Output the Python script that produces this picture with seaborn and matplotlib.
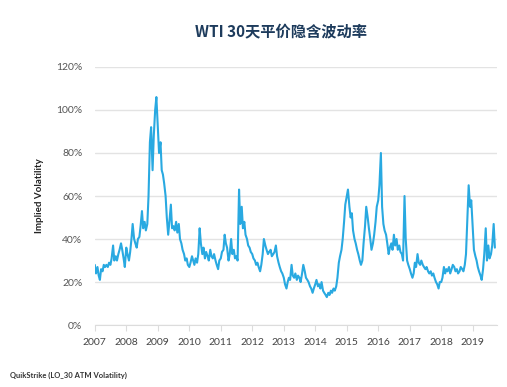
import pandas as pd
import matplotlib
matplotlib.use('Agg')
import matplotlib.pyplot as plt
import matplotlib.dates as mdates
from matplotlib.ticker import FuncFormatter, MultipleLocator
import seaborn as sns

# semi-monthly readings of WTI 30-day ATM implied vol (%)
v2007 = [28, 24, 27, 23, 21, 26, 25, 28, 27, 28, 27, 29, 28, 31, 37, 30, 32, 30, 33, 35, 38, 35, 31, 27]
v2008 = [36, 33, 30, 34, 40, 47, 40, 38, 36, 40, 41, 46, 53, 45, 48, 44, 47, 60, 85, 92, 72, 88, 100, 106]
v2009 = [92, 80, 85, 72, 70, 66, 60, 50, 42, 48, 56, 45, 46, 44, 48, 43, 47, 40, 38, 35, 33, 30, 31, 28]
v2010 = [27, 29, 32, 30, 28, 31, 29, 33, 45, 38, 33, 36, 31, 34, 32, 30, 35, 32, 31, 33, 30, 28, 26, 30]
v2011 = [31, 34, 35, 42, 38, 36, 30, 33, 40, 33, 35, 31, 32, 30, 63, 47, 55, 45, 48, 42, 40, 37, 36, 34]
v2012 = [33, 31, 30, 28, 29, 27, 25, 28, 33, 40, 37, 35, 33, 34, 35, 32, 33, 34, 37, 32, 29, 27, 25, 24]
v2013 = [22, 19, 17, 20, 22, 21, 28, 23, 22, 24, 21, 23, 22, 20, 24, 28, 25, 22, 21, 20, 18, 17, 15, 17]
v2014 = [19, 21, 18, 19, 17, 20, 16, 15, 14, 13, 15, 14, 16, 15, 17, 16, 18, 22, 29, 32, 35, 40, 48, 56]
v2015 = [60, 63, 55, 50, 52, 44, 40, 38, 35, 33, 30, 28, 30, 38, 46, 55, 50, 45, 40, 35, 38, 42, 48, 55]
v2016 = [58, 65, 80, 55, 47, 44, 42, 38, 33, 36, 38, 35, 42, 37, 40, 35, 37, 34, 33, 30, 60, 40, 30, 28]
v2017 = [26, 24, 22, 24, 29, 27, 33, 29, 28, 30, 28, 27, 26, 27, 25, 24, 25, 23, 24, 22, 20, 19, 17, 20]
v2018 = [20, 22, 27, 24, 26, 25, 27, 24, 26, 28, 27, 25, 26, 24, 25, 27, 26, 25, 28, 33, 50, 65, 55, 58]
v2019 = [45, 35, 32, 30, 27, 25, 23, 21, 26, 33, 45, 30, 37, 31, 33, 37, 47, 36]

vol = v2007 + v2008 + v2009 + v2010 + v2011 + v2012 + v2013 + v2014 + v2015 + v2016 + v2017 + v2018 + v2019
dates = pd.date_range('2007-01-01', periods=len(vol), freq='SMS')
df = pd.DataFrame({'Date': dates, 'Vol': vol})

sns.set_style('white')
plt.rcParams['font.family'] = ['Lato', 'Noto Sans CJK SC', 'DejaVu Sans']

fig = plt.figure(figsize=(5.07, 3.87), dpi=100)
ax = fig.add_axes([0.187, 0.16, 0.793, 0.667])

sns.lineplot(data=df, x='Date', y='Vol', ax=ax, color='#29a9e1', linewidth=1.5)

ax.set_ylim(0, 120)
ax.set_xlim(pd.Timestamp('2007-01-01'), pd.Timestamp('2019-10-08'))
ax.yaxis.set_major_locator(MultipleLocator(20))
ax.yaxis.set_major_formatter(FuncFormatter(lambda v, p: f'{v:.0f}%'))
ax.xaxis.set_major_locator(mdates.YearLocator())
ax.xaxis.set_major_formatter(mdates.DateFormatter('%Y'))

ax.grid(axis='y', color='#e3e3e3', linewidth=1)
ax.set_axisbelow(True)
for s in ['top', 'right', 'left']:
    ax.spines[s].set_visible(False)
ax.spines['bottom'].set_color('#dcdcdc')
ax.tick_params(axis='x', length=4, color='#dcdcdc', labelsize=7.5, labelcolor='#444444', pad=5, bottom=True)
ax.tick_params(axis='y', length=0, labelsize=7.5, labelcolor='#555555', pad=9)

ax.set_xlabel('')
ax.set_ylabel('Implied Volatility', fontsize=7, fontweight='bold', color='#222222', labelpad=9)

fig.text(0.555, 0.918, 'WTI 30天平价隐含波动率', ha='center', va='center', fontsize=11,
         color='#1d3b5c', family=['Noto Sans CJK SC', 'DejaVu Sans'], fontweight='bold')
fig.text(0.02, 0.025, 'QuikStrike (LO_30 ATM Volatility)', fontsize=5.5, fontweight='bold', color='#333333')

fig.savefig('out.png', dpi=100)
